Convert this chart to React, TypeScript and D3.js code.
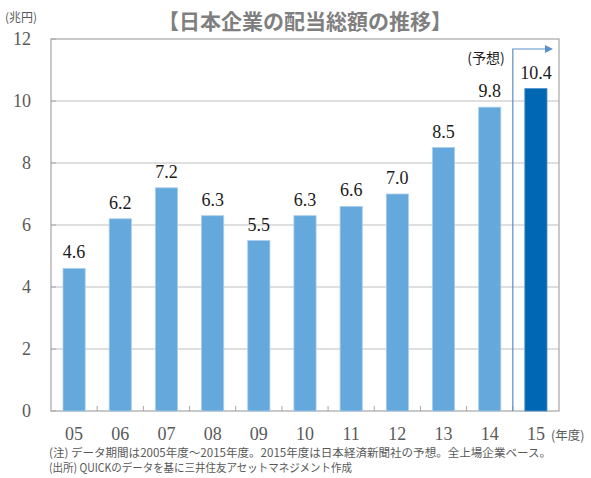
import * as d3 from 'd3'

const years = ['05', '06', '07', '08', '09', '10', '11', '12', '13', '14', '15']
const dividends = [4.6, 6.2, 7.2, 6.3, 5.5, 6.3, 6.6, 7.0, 8.5, 9.8, 10.4]
const forecastYears = ['15']
const yTicks = [0, 2, 4, 6, 8, 10, 12]

const title = '【日本企業の配当総額の推移】'
const unitLabel = '(兆円)'
const yearUnit = '(年度)'
const forecastLabel = '(予想)'
const noteLines = [
  '(注) データ期間は2005年度～2015年度。2015年度は日本経済新聞社の予想。全上場企業ベース。',
  '(出所) QUICKのデータを基に三井住友アセットマネジメント作成',
]

const serif = '"Liberation Serif", "DejaVu Serif", serif'
const sans = '"Noto Sans CJK JP", "Noto Sans", sans-serif'

export default function App() {
  const width = 591
  const height = 478
  const left = 51
  const right = 559
  const top = 39
  const bottom = 411

  const x = d3.scaleBand().domain(years).range([left, right]).paddingInner(0.52).paddingOuter(0.26)
  const step = x.step()
  const y = d3.scaleLinear().domain([0, 12]).range([bottom, top])

  // left edge of a category's slot (where the separator ticks sit)
  const bandStart = (label: string) => left + years.indexOf(label) * ((right - left) / years.length)
  const forecastX = bandStart(forecastYears[0])
  const arrowY = 49
  const arrowEnd = 553

  return (
    <div style={{ position: 'absolute', left: 0, top: 0 }}>
      <svg width={width} height={height} style={{ display: 'block', background: '#fff' }}>
        <text x={305} y={29} textAnchor="middle" fontFamily={sans} fontWeight="bold" fontSize={21} fill="#7f7f7f">
          {title}
        </text>
        <text x={5} y={22} fontFamily={sans} fontSize={12} fill="#595959">
          {unitLabel}
        </text>

        {yTicks.map((t) => (
          <g key={t}>
            {t > 0 && t < 12 && <line x1={left} x2={right} y1={y(t)} y2={y(t)} stroke="#bfbfbf" strokeWidth={1.2} />}
            <line x1={left} x2={left + 5} y1={y(t)} y2={y(t)} stroke="#a6a6a6" />
            <text x={31} y={y(t) + 6} textAnchor="end" fontFamily={serif} fontSize={18} fill="#595959">
              {t}
            </text>
          </g>
        ))}

        <rect x={left} y={top} width={right - left} height={bottom - top} fill="none" stroke="#a6a6a6" strokeWidth={1.2} />

        {years.slice(1).map((label) => (
          <line
            key={label}
            x1={bandStart(label)}
            x2={bandStart(label)}
            y1={bottom}
            y2={bottom - 5}
            stroke="#a6a6a6"
          />
        ))}

        {years.map((label, i) => {
          const v = dividends[i]
          const bx = x(label) ?? 0
          const forecast = forecastYears.includes(label)
          return (
            <g key={label}>
              <rect
                x={bx}
                y={y(v)}
                width={x.bandwidth()}
                height={bottom - y(v)}
                fill={forecast ? '#0068b3' : '#65a9dc'}
                stroke={forecast ? '#4f8fc8' : '#a9cdec'}
                strokeWidth={0.8}
              />
              <text
                x={bx + x.bandwidth() / 2}
                y={y(v) - 10}
                textAnchor="middle"
                fontFamily={serif}
                fontSize={18}
                fill="#1a1a1a"
              >
                {v.toFixed(1)}
              </text>
              <text
                x={bx + x.bandwidth() / 2}
                y={440}
                textAnchor="middle"
                fontFamily={serif}
                fontSize={18}
                fill="#595959"
              >
                {label}
              </text>
            </g>
          )
        })}

        <path
          d={`M${forecastX},${bottom}V${arrowY}H${arrowEnd - 7}`}
          fill="none"
          stroke="#5b8fc7"
          strokeWidth={1.2}
        />
        <path d={`M${arrowEnd - 8},${arrowY - 4}L${arrowEnd},${arrowY}L${arrowEnd - 8},${arrowY + 4}Z`} fill="#5b8fc7" />

        <text x={forecastX - step + 38} y={63} textAnchor="end" fontFamily={sans} fontSize={14} fill="#1a1a1a">
          {forecastLabel}
        </text>

        <text x={551} y={440} fontFamily={sans} fontSize={12.5} fill="#595959">
          {yearUnit}
        </text>

        <text x={49} y={457} fontFamily={sans} fontSize={11.5} fill="#595959" textLength={502} lengthAdjust="spacingAndGlyphs">
          {noteLines[0]}
        </text>
        <text x={49} y={472} fontFamily={sans} fontSize={11.5} fill="#595959" textLength={303} lengthAdjust="spacingAndGlyphs">
          {noteLines[1]}
        </text>
      </svg>
    </div>
  )
}
